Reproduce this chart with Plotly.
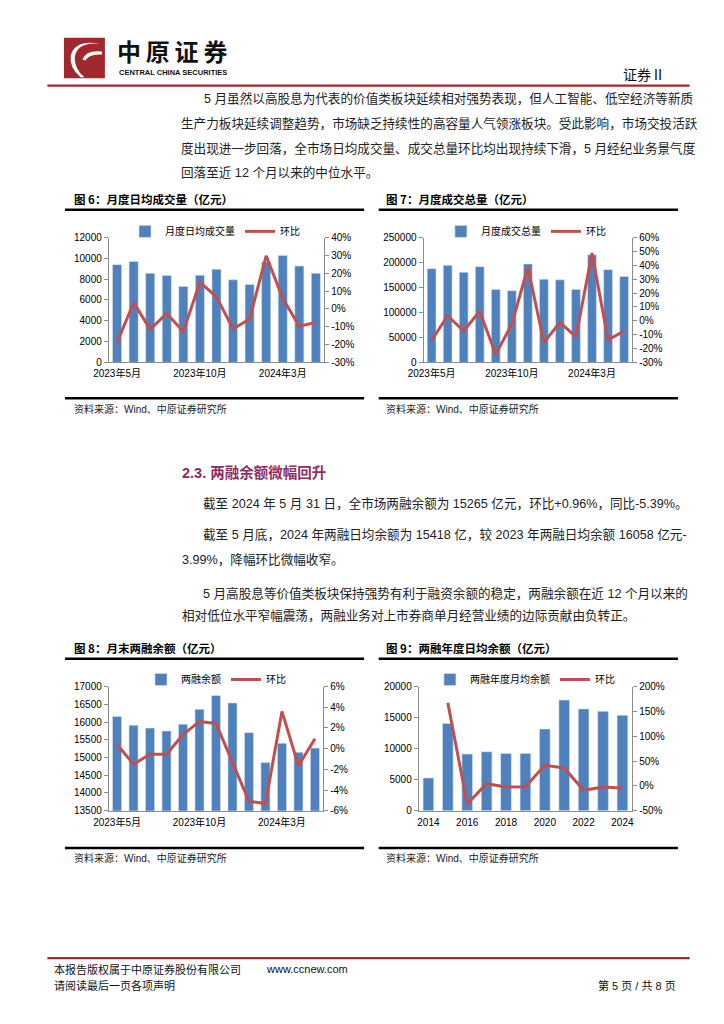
import plotly.graph_objects as go

# ---------------- data ----------------
months = ["2023年5月", "2023年6月", "2023年7月", "2023年8月", "2023年9月", "2023年10月",
          "2023年11月", "2023年12月", "2024年1月", "2024年2月", "2024年3月", "2024年4月", "2024年5月"]
month_ticks = ["2023年5月", "2023年10月", "2024年3月"]

daily_turnover = [9400, 9700, 8570, 8350, 7300, 8380, 8950, 7940, 7490, 9650, 10290, 9270, 8570]
daily_turnover_mom = [-18.9, 3.5, -11.5, -2.6, -12.8, 15.0, 6.7, -11.3, -5.7, 29.8, 5.9, -9.8, -7.6]

total_turnover = [187800, 194400, 180500, 191800, 146200, 143500, 197100, 166700, 165300, 146200,
                  215600, 185800, 172000]
total_turnover_mom = [-14.3, 3.6, -7.4, 6.9, -24.3, -2.4, 38.6, -15.7, -1.2, -11.7, 48.8, -13.8, -7.4]

margin_balance = [16160, 15910, 15830, 15750, 15940, 16360, 16750, 16540, 15700, 14860, 15400, 15150, 15265]
margin_balance_mom = [0.4, -1.5, -0.55, -0.55, 1.35, 2.63, 2.44, -1.3, -5.1, -5.3, 3.6, -1.65, 0.96]

years = ["2014", "2015", "2016", "2017", "2018", "2019", "2020", "2021", "2022", "2023", "2024"]
year_ticks = ["2014", "2016", "2018", "2020", "2022", "2024"]
annual_margin = [5300, 14100, 9150, 9520, 9260, 9260, 13190, 17870, 16440, 16058, 15418]
annual_margin_mom = [None, 168, -36.5, 4.5, -2.1, -1.5, 41.8, 36.4, -8.8, -2.1, -4.0]

pct_ticks6 = [-30, -20, -10, 0, 10, 20, 30, 40]
pct_ticks7 = [-30, -20, -10, 0, 10, 20, 30, 40, 50, 60]
pct_ticks8 = [-6, -4, -2, 0, 2, 4, 6]
pct_ticks9 = [-50, 0, 50, 100, 150, 200]

# ---------------- style ----------------
PAGE_W, PAGE_H = 724, 1024
M = 8  # default page body margin
W, H = PAGE_W - 2 * M, PAGE_H - 2 * M
BLUE = "#4F81BD"
RED = "#C0504D"
AX = "#8C8C8C"
FONT = "Liberation Sans, Arial, Noto Sans CJK SC, sans-serif"
CJK = "Noto Sans CJK SC, sans-serif"
DARKRED = "#A3282E"


def px(x):
    return (x - M) / W


def py(y):
    return 1 - (y - M) / H


fig = go.Figure()


def add_chart(idx, cats, bars, line, bar_name, ticks_cat, yl_range, yl_dtick, pct_ticks, xdom, ydom, leg_pos):
    xa = "x" if idx == 1 else f"x{idx}"
    yl = 2 * idx - 1
    yr = 2 * idx
    yla = "y" if yl == 1 else f"y{yl}"
    yra = f"y{yr}"
    leg = "legend" if idx == 1 else f"legend{idx}"
    fig.add_trace(go.Bar(x=cats, y=bars, name=bar_name,
                         marker=dict(color=BLUE, line=dict(width=0.6, color="#D9E3F0")),
                         xaxis=xa, yaxis=yla, legend=leg))
    fig.add_trace(go.Scatter(x=cats, y=line, name="环比", mode="lines", line=dict(color=RED, width=3),
                             xaxis=xa, yaxis=yra, legend=leg, connectgaps=False))
    xkey = "xaxis" if idx == 1 else f"xaxis{idx}"
    ylkey = "yaxis" if yl == 1 else f"yaxis{yl}"
    yrkey = f"yaxis{yr}"
    fig.layout[xkey] = dict(domain=xdom, anchor=yla, type="category", categoryorder="array", categoryarray=cats,
                            tickmode="array", tickvals=ticks_cat, ticktext=ticks_cat,
                            showline=True, linecolor=AX, linewidth=1, ticks="", showgrid=False,
                            tickfont=dict(size=10, family=FONT, color="#000"), ticklabelstandoff=2)
    fig.layout[ylkey] = dict(domain=ydom, anchor=xa, range=yl_range, dtick=yl_dtick, tick0=yl_range[0],
                             showline=True, linecolor=AX, linewidth=1, ticks="outside", ticklen=4, tickcolor=AX,
                             showgrid=False, zeroline=False, tickformat="d",
                             tickfont=dict(size=10, family=FONT, color="#000"))
    fig.layout[yrkey] = dict(overlaying=yla, side="right", anchor=xa, range=[pct_ticks[0], pct_ticks[-1]],
                             tickmode="array", tickvals=pct_ticks, ticktext=[f"{v}%" for v in pct_ticks],
                             showline=True, linecolor=AX, linewidth=1, ticks="outside", ticklen=4, tickcolor=AX,
                             showgrid=False, zeroline=False,
                             tickfont=dict(size=10, family=FONT, color="#000"))
    fig.layout[leg] = dict(orientation="h", x=leg_pos[0], y=leg_pos[1], xanchor="center", yanchor="middle",
                           font=dict(size=10, family=FONT, color="#000"), bgcolor="rgba(0,0,0,0)",
                           itemwidth=30, tracegroupgap=0)


add_chart(1, months, daily_turnover, daily_turnover_mom, "月度日均成交量", month_ticks, [0, 12000], 2000,
          pct_ticks6, [px(95), px(316)], [py(360.5), py(234.3)], (px(204), py(228)))
add_chart(2, months, total_turnover, total_turnover_mom, "月度成交总量", month_ticks, [0, 250000], 50000,
          pct_ticks7, [px(418), px(632)], [py(360.5), py(234.3)], (px(523), py(228)))
add_chart(3, months, margin_balance, margin_balance_mom, "两融余额", month_ticks, [13500, 17000], 500,
          pct_ticks8, [px(95), px(315)], [py(814.3), py(688.7)], (px(205), py(681.5)))
add_chart(4, years, annual_margin, annual_margin_mom, "两融年度月均余额", year_ticks, [0, 20000], 5000,
          pct_ticks9, [px(413), px(632)], [py(814.3), py(689)], (px(522), py(681.5)))

fig.update_layout(bargap=0.45)

# ---------------- page decorations ----------------
shapes = []
ann = []


def hline(x0, x1, y, color, w):
    shapes.append(dict(type="line", xref="paper", yref="paper", x0=px(x0), x1=px(x1), y0=py(y), y1=py(y),
                       line=dict(color=color, width=w)))


def text(x, y, s, size, color="#000", bold=False, xanchor="left", family=CJK):
    ann.append(dict(xref="paper", yref="paper", x=px(x), y=py(y), text=(f"<b>{s}</b>" if bold else s),
                    showarrow=False, xanchor=xanchor, yanchor="middle",
                    font=dict(size=size, color=color, family=family)))


# logo
shapes.append(dict(type="rect", xref="paper", yref="paper", x0=px(49), x1=px(91), y0=py(73), y1=py(32),
                   fillcolor="#A1282D", line=dict(width=0)))
shapes.append(dict(type="path", xref="paper", yref="paper",
                   path=f"M {px(86)},{py(38)} Q {px(62)},{py(36)} {px(60)},{py(52)} Q {px(60)},{py(64)} {px(70)},{py(72)} "
                        f"L {px(66)},{py(72)} Q {px(54)},{py(62)} {px(56)},{py(50)} Q {px(60)},{py(34)} {px(86)},{py(38)} Z",
                   fillcolor="white", line=dict(width=0)))
shapes.append(dict(type="path", xref="paper", yref="paper",
                   path=f"M {px(88)},{py(46)} Q {px(72)},{py(44)} {px(68)},{py(54)} L {px(71)},{py(55)} Q {px(75)},{py(48)} {px(88)},{py(49)} Z",
                   fillcolor="white", line=dict(width=0)))
text(101, 45, "中\u2009原\u2009证\u2009券", 24, "#111", True, family=CJK)
text(103, 67.5, "CENTRAL CHINA SECURITIES", 7.5, "#111", True, family=FONT)
text(668, 69, "证券Ⅱ", 14, "#111", False, xanchor="right")
hline(32, 691, 80.5, DARKRED, 2.2)

# top paragraph
para1 = [
    (191, 94, "5 月虽然以高股息为代表的价值类板块延续相对强势表现，但人工智能、低空经济等新质"),
    (167, 119, "生产力板块延续调整趋势，市场缺乏持续性的高容量人气领涨板块。受此影响，市场交投活跃"),
    (167, 144, "度出现进一步回落，全市场日均成交量、成交总量环比均出现持续下滑，5 月经纪业务景气度"),
    (167, 168, "回落至近 12 个月以来的中位水平。"),
]
for x, y, s in para1:
    text(x, y, s, 12.6, "#222", family=FONT)

# chart titles and rules
text(57, 195, "图 6：月度日均成交量（亿元）", 11.5, "#000", True)
text(377, 195, "图 7：月度成交总量（亿元）", 11.5, "#000", True)
hline(50, 357, 206, "#000", 2.5)
hline(372, 679, 206, "#000", 2.5)
hline(50, 357, 397, "#000", 2.5)
hline(372, 679, 397, "#000", 2.5)
text(57, 408, "资料来源：Wind、中原证券研究所", 10, "#222", family=FONT)
text(377, 408, "资料来源：Wind、中原证券研究所", 10, "#222", family=FONT)

# section
text(168, 472, "2.3. 两融余额微幅回升", 14.5, "#8E2D63", True, family=FONT)
para2 = [
    (190, 503, "截至 2024 年 5 月 31 日，全市场两融余额为 15265 亿元，环比+0.96%，同比-5.39%。"),
    (190, 535, "截至 5 月底，2024 年两融日均余额为 15418 亿，较 2023 年两融日均余额 16058 亿元-"),
    (168, 560, "3.99%，降幅环比微幅收窄。"),
    (190, 594, "5 月高股息等价值类板块保持强势有利于融资余额的稳定，两融余额在近 12 个月以来的"),
    (168, 617, "相对低位水平窄幅震荡，两融业务对上市券商单月经营业绩的边际贡献由负转正。"),
]
for x, y, s in para2:
    text(x, y, s, 12.6, "#222", family=FONT)

text(57, 650, "图 8：月末两融余额（亿元）", 11.5, "#000", True)
text(377, 650, "图 9：两融年度日均余额（亿元）", 11.5, "#000", True)
hline(50, 357, 660.5, "#000", 2.5)
hline(372, 679, 660.5, "#000", 2.5)
hline(50, 357, 852, "#000", 2.5)
hline(372, 679, 852, "#000", 2.5)
text(57, 862, "资料来源：Wind、中原证券研究所", 10, "#222", family=FONT)
text(377, 862, "资料来源：Wind、中原证券研究所", 10, "#222", family=FONT)

# footer
hline(32, 691, 963.5, DARKRED, 2.2)
text(37, 975, "本报告版权属于中原证券股份有限公司", 11, "#111")
text(254, 975, "www.ccnew.com", 11, "#111", family=FONT)
text(37, 991, "请阅读最后一页各项声明", 11, "#111")
text(679, 991, "第 5 页 / 共 8 页", 11, "#111", xanchor="right", family=FONT)

fig.update_layout(shapes=shapes, annotations=ann,
                  width=W, height=H, autosize=False, margin=dict(l=0, r=0, t=0, b=0),
                  paper_bgcolor="white", plot_bgcolor="white", showlegend=True)

fig.write_html("out.html", config={"displayModeBar": False})
